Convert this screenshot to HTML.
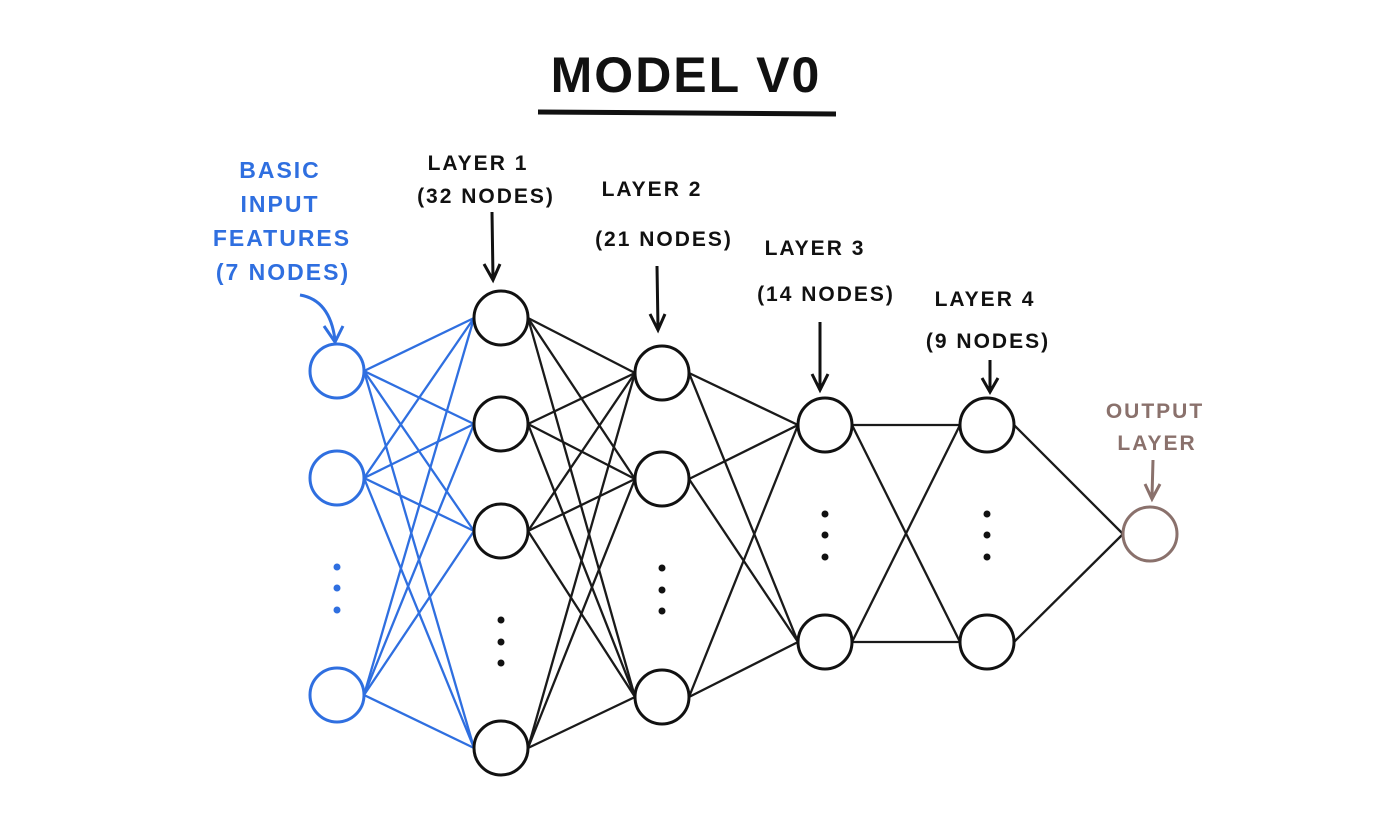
<!DOCTYPE html>
<html><head><meta charset="utf-8"><style>
html,body{margin:0;padding:0;background:#fff;}
svg{display:block}
text{font-family:"Liberation Sans",sans-serif;font-weight:bold;text-anchor:middle;letter-spacing:2px}
</style></head><body>
<svg width="1400" height="813" viewBox="0 0 1400 813" xmlns="http://www.w3.org/2000/svg">
<text x="686" y="92" font-size="50" fill="#111" letter-spacing="8">MODEL V0</text>
<line x1="538" y1="112" x2="836" y2="114" stroke="#111" stroke-width="5"/>
<g font-size="23" fill="#2f6fe0">
<text x="280" y="178">BASIC</text><text x="280" y="212">INPUT</text>
<text x="282" y="246">FEATURES</text><text x="283" y="280">(7 NODES)</text></g>
<path d="M300 295 Q330 300 335 340" fill="none" stroke="#2f6fe0" stroke-width="3"/>
<path d="M324 326 L335 342 L343 326" fill="none" stroke="#2f6fe0" stroke-width="3"/>
<g font-size="21" fill="#111">
<text x="478" y="170">LAYER 1</text><text x="486" y="203">(32 NODES)</text>
<text x="652" y="196">LAYER 2</text><text x="664" y="246">(21 NODES)</text>
<text x="815" y="255">LAYER 3</text><text x="826" y="301">(14 NODES)</text>
<text x="985" y="306">LAYER 4</text><text x="988" y="348">(9 NODES)</text>
</g>
<g font-size="21" fill="#8a716c"><text x="1155" y="418">OUTPUT</text><text x="1157" y="450">LAYER</text></g>
<g stroke="#111" stroke-width="3" fill="none">
<path d="M492 212 L493 278 M484 264 L493 280 L500 264"/>
<path d="M657 266 L658 328 M650 314 L658 330 L665 314"/>
<path d="M820 322 L820 388 M812 374 L820 390 L828 374"/>
<path d="M990 360 L990 390 M982 378 L990 392 L998 378"/>
</g>
<path d="M1153 460 L1152 497 M1145 484 L1152 499 L1160 484" stroke="#8a716c" stroke-width="3" fill="none"/>
<g stroke="#2f6fe0" stroke-width="2.3">
<line x1="364" y1="371" x2="474" y2="318"/><line x1="364" y1="371" x2="474" y2="424"/><line x1="364" y1="371" x2="474" y2="531"/><line x1="364" y1="371" x2="474" y2="748"/>
<line x1="364" y1="478" x2="474" y2="318"/><line x1="364" y1="478" x2="474" y2="424"/><line x1="364" y1="478" x2="474" y2="531"/><line x1="364" y1="478" x2="474" y2="748"/>
<line x1="364" y1="695" x2="474" y2="318"/><line x1="364" y1="695" x2="474" y2="424"/><line x1="364" y1="695" x2="474" y2="531"/><line x1="364" y1="695" x2="474" y2="748"/>
</g>
<g stroke="#1a1a1a" stroke-width="2.3">
<line x1="528" y1="318" x2="635" y2="373"/><line x1="528" y1="318" x2="635" y2="479"/><line x1="528" y1="318" x2="635" y2="697"/>
<line x1="528" y1="424" x2="635" y2="373"/><line x1="528" y1="424" x2="635" y2="479"/><line x1="528" y1="424" x2="635" y2="697"/>
<line x1="528" y1="531" x2="635" y2="373"/><line x1="528" y1="531" x2="635" y2="479"/><line x1="528" y1="531" x2="635" y2="697"/>
<line x1="528" y1="748" x2="635" y2="373"/><line x1="528" y1="748" x2="635" y2="479"/><line x1="528" y1="748" x2="635" y2="697"/>
<line x1="689" y1="373" x2="798" y2="425"/><line x1="689" y1="373" x2="798" y2="642"/>
<line x1="689" y1="479" x2="798" y2="425"/><line x1="689" y1="479" x2="798" y2="642"/>
<line x1="689" y1="697" x2="798" y2="425"/><line x1="689" y1="697" x2="798" y2="642"/>
<line x1="852" y1="425" x2="960" y2="425"/><line x1="852" y1="425" x2="960" y2="642"/>
<line x1="852" y1="642" x2="960" y2="425"/><line x1="852" y1="642" x2="960" y2="642"/>
<line x1="1014" y1="425" x2="1123" y2="534"/><line x1="1014" y1="642" x2="1123" y2="534"/>
</g>
<g fill="#fff" stroke-width="3">
<g stroke="#2f6fe0"><circle cx="337" cy="371" r="27"/><circle cx="337" cy="478" r="27"/><circle cx="337" cy="695" r="27"/></g>
<g stroke="#111">
<circle cx="501" cy="318" r="27"/><circle cx="501" cy="424" r="27"/><circle cx="501" cy="531" r="27"/><circle cx="501" cy="748" r="27"/>
<circle cx="662" cy="373" r="27"/><circle cx="662" cy="479" r="27"/><circle cx="662" cy="697" r="27"/>
<circle cx="825" cy="425" r="27"/><circle cx="825" cy="642" r="27"/>
<circle cx="987" cy="425" r="27"/><circle cx="987" cy="642" r="27"/>
</g>
<circle cx="1150" cy="534" r="27" stroke="#8a716c"/>
</g>
<g fill="#2f6fe0"><circle cx="337" cy="567" r="3.5"/><circle cx="337" cy="588" r="3.5"/><circle cx="337" cy="610" r="3.5"/></g>
<g fill="#111">
<circle cx="501" cy="620" r="3.5"/><circle cx="501" cy="642" r="3.5"/><circle cx="501" cy="663" r="3.5"/>
<circle cx="662" cy="568" r="3.5"/><circle cx="662" cy="590" r="3.5"/><circle cx="662" cy="611" r="3.5"/>
<circle cx="825" cy="514" r="3.5"/><circle cx="825" cy="535" r="3.5"/><circle cx="825" cy="557" r="3.5"/>
<circle cx="987" cy="514" r="3.5"/><circle cx="987" cy="535" r="3.5"/><circle cx="987" cy="557" r="3.5"/>
</g>
</svg>
</body></html>
